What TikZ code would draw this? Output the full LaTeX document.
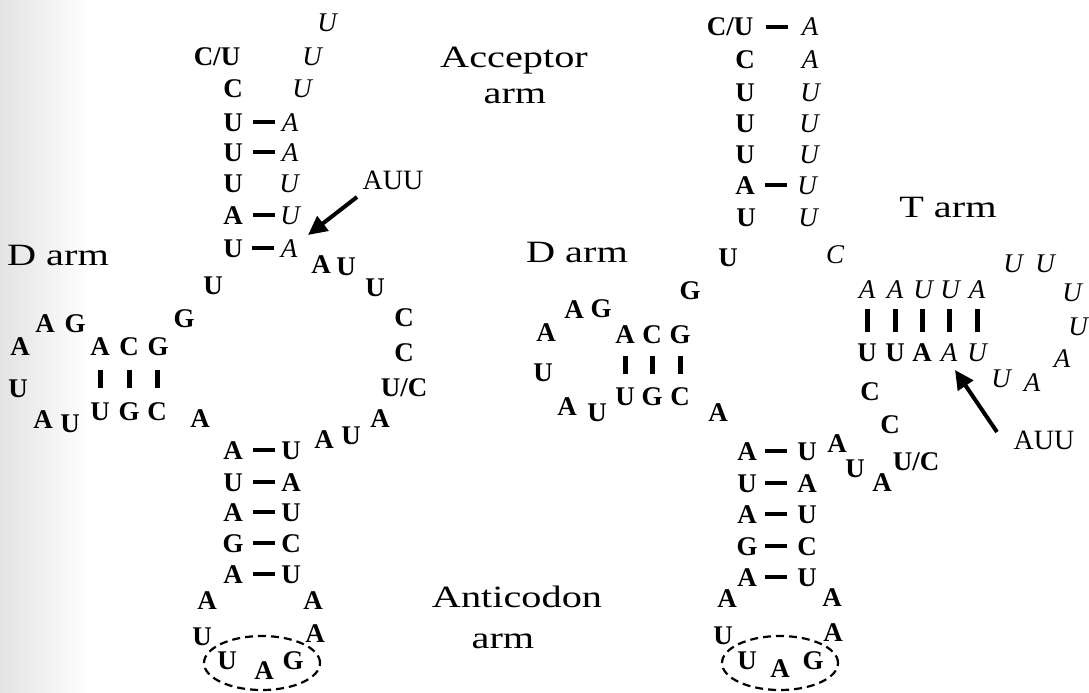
\documentclass[tikz,border=0pt]{standalone}
\usepackage{fontspec}
\usepackage{pdfrender}
\setmainfont{Liberation Serif}
\newfontfamily\seqfont{Liberation Serif}
\newfontfamily\labfont[FakeStretch=1.3]{Liberation Serif}
\usetikzlibrary{shapes.geometric,arrows.meta,calc}
\tikzset{
  letter/.style={inner sep=0pt, outer sep=0pt, anchor=center, text depth=0pt},
  bs/.style={letter, font=\seqfont\bfseries\fontsize{27}{27}\selectfont\pdfrender{TextRenderingMode=FillStroke,LineWidth=1.1pt}, text height=18pt},
  is/.style={letter, font=\seqfont\itshape\fontsize{27}{27}\selectfont\pdfrender{TextRenderingMode=FillStroke,LineWidth=0.6pt}, text height=18pt},
  lab/.style={letter, font=\labfont\fontsize{31}{31}\selectfont\pdfrender{TextRenderingMode=FillStroke,LineWidth=0.5pt}, text height=20.5pt},
  auu/.style={letter, font=\fontsize{28}{28}\selectfont\pdfrender{TextRenderingMode=FillStroke,LineWidth=0.5pt}, text height=18.5pt},
  pairline/.style={line width=3.8pt},
  barline/.style={line width=5pt},
  arr/.style={line width=4pt, -{Triangle[length=19pt,width=18pt]}},
  anti/.style={draw, ellipse, dash pattern=on 8pt off 5pt, line width=2.2pt, minimum width=116pt, minimum height=54pt, inner sep=0pt},
}
\newcommand\pairdash[3][0]{\draw[pairline] ($(#2)!0.5!(#3)+(#1-11,0)$) -- ($(#2)!0.5!(#3)+(#1+11,0)$);}
\newcommand\basebar[3][18]{\draw[barline] ($(#2)!0.5!(#3)+(0,-#1/2)$) -- ($(#2)!0.5!(#3)+(0,#1/2)$);}
\begin{document}
\begin{tikzpicture}[x=1pt,y=-1pt]
\useasboundingbox (0,0) rectangle (1089,693);
\shade[left color=black!11, right color=white] (0,0) rectangle (90,693);
% ================= LEFT =================
% acceptor
\node[is] (La0) at (327,23) {U};
\node[bs] (La1l) at (217,57) {C/U}; \node[is] (La1r) at (312,57) {U};
\node[bs] (La2l) at (233,88) {C};   \node[is] (La2r) at (302,88) {U};
\node[bs] (La3l) at (233,122) {U};  \node[is] (La3r) at (290,122) {A};
\node[bs] (La4l) at (233,152) {U};  \node[is] (La4r) at (290,152) {A};
\node[bs] (La5l) at (233,183) {U};  \node[is] (La5r) at (289,183) {U};
\node[bs] (La6l) at (233,215) {A};  \node[is] (La6r) at (290,215) {U};
\node[bs] (La7l) at (233,248) {U};  \node[is] (La7r) at (289,248) {A};
\pairdash[2]{La3l}{La3r}\pairdash[2]{La4l}{La4r}\pairdash[2]{La6l}{La6r}\pairdash[2]{La7l}{La7r}
% junction and variable loop
\node[bs] (Lc1) at (321,264) {A};
\node[bs] (Lc2) at (346,266) {U};
\node[bs] (Lc3) at (375,287) {U};
\node[bs] (Lc4) at (404,317) {C};
\node[bs] (Lc5) at (404,352) {C};
\node[bs] (Lc6) at (404,387) {U/C};
\node[bs] (Lc7) at (380,418) {A};
\node[bs] (Lc8) at (351,435) {U};
\node[bs] (Lc9) at (324,439) {A};
\node[bs] (Lj1) at (213,285) {U};
\node[bs] (Lj2) at (184,318) {G};
\node[bs] (Lj3) at (200,418) {A};
% D arm
\node[bs] (Ld1) at (20,346) {A};
\node[bs] (Ld2) at (45,323) {A};
\node[bs] (Ld3) at (75,323) {G};
\node[bs] (Ld4) at (100,346) {A};
\node[bs] (Ld5) at (129,346) {C};
\node[bs] (Ld6) at (158,346) {G};
\node[bs] (Ld7) at (100,411) {U};
\node[bs] (Ld8) at (129,411) {G};
\node[bs] (Ld9) at (157,411) {C};
\node[bs] (Ld10) at (18,388) {U};
\node[bs] (Ld11) at (43,419) {A};
\node[bs] (Ld12) at (70,423) {U};
\basebar{Ld4}{Ld7}\basebar{Ld5}{Ld8}\basebar{Ld6}{Ld9}
% anticodon arm
\node[bs] (Ls1l) at (233,450) {A}; \node[bs] (Ls1r) at (291,450) {U};
\node[bs] (Ls2l) at (233,482) {U}; \node[bs] (Ls2r) at (291,482) {A};
\node[bs] (Ls3l) at (233,512) {A}; \node[bs] (Ls3r) at (291,512) {U};
\node[bs] (Ls4l) at (233,543) {G}; \node[bs] (Ls4r) at (291,543) {C};
\node[bs] (Ls5l) at (233,574) {A}; \node[bs] (Ls5r) at (291,574) {U};
\pairdash[2]{Ls1l}{Ls1r}\pairdash[2]{Ls2l}{Ls2r}\pairdash[2]{Ls3l}{Ls3r}\pairdash[2]{Ls4l}{Ls4r}\pairdash[2]{Ls5l}{Ls5r}
\node[bs] (Lx1) at (207,600) {A};
\node[bs] (Lx2) at (313,600) {A};
\node[bs] (Lx3) at (202,636) {U};
\node[bs] (Lx4) at (315,633) {A};
\node[bs] (Lac1) at (227,660) {U};
\node[bs] (Lac2) at (264,670) {A};
\node[bs] (Lac3) at (293,660) {G};
\node[anti] (Lell) at (262,663) {};
% labels
\node[lab] (LDarm) at (58,255) {D arm};
\node[auu] (Lauu) at (393,180) {AUU};
\coordinate (LarT) at (357,197);
\coordinate (LarH) at (308,235);
\draw[arr] (LarT) -- (LarH);
\node[lab] (Acc1) at (514,57) {Acceptor};
\node[lab] (Acc2) at (515,93) {arm};
\node[lab] (Ant1) at (517,597) {Anticodon};
\node[lab] (Ant2) at (503,638) {arm};
% ================= RIGHT =================
\node[bs] (Ra1l) at (730,27) {C/U};  \node[is] (Ra1r) at (810,27) {A};
\node[bs] (Ra2l) at (745,60) {C};    \node[is] (Ra2r) at (810,60) {A};
\node[bs] (Ra3l) at (745,92) {U};    \node[is] (Ra3r) at (810,92) {U};
\node[bs] (Ra4l) at (745,123) {U};   \node[is] (Ra4r) at (809,123) {U};
\node[bs] (Ra5l) at (745,154) {U};   \node[is] (Ra5r) at (809,154) {U};
\node[bs] (Ra6l) at (745,185) {A};   \node[is] (Ra6r) at (807,185) {U};
\node[bs] (Ra7l) at (746,217) {U};   \node[is] (Ra7r) at (808,217) {U};
\pairdash[7]{Ra1l}{Ra1r}\pairdash[0]{Ra6l}{Ra6r}
\node[bs] (Rj1) at (728,257) {U};
\node[bs] (Rj2) at (690,290) {G};
\node[is] (Rc0) at (835,254) {C};
% T arm
\node[is] (Rt1) at (867,289) {A};
\node[is] (Rt2) at (895,289) {A};
\node[is] (Rt3) at (923,289) {U};
\node[is] (Rt4) at (950,289) {U};
\node[is] (Rt5) at (977,289) {A};
\node[bs] (Rb1) at (867,352) {U};
\node[bs] (Rb2) at (895,352) {U};
\node[bs] (Rb3) at (922,352) {A};
\node[is] (Rb4) at (949,352) {A};
\node[is] (Rb5) at (977,352) {U};
\basebar[23]{Rt1}{Rb1}\basebar[23]{Rt2}{Rb2}\basebar[23]{Rt3}{Rb3}\basebar[23]{Rt4}{Rb4}\basebar[23]{Rt5}{Rb5}
\node[is] (Rl1) at (1013,263) {U};
\node[is] (Rl2) at (1045,263) {U};
\node[is] (Rl3) at (1072,292) {U};
\node[is] (Rl4) at (1078,326) {U};
\node[is] (Rl5) at (1062,358) {A};
\node[is] (Rl6) at (1032,382) {A};
\node[is] (Rl7) at (1001,378) {U};
\node[lab] (RTarm) at (948,207) {T arm};
\node[auu] (Rauu) at (1044,440) {AUU};
\coordinate (RarT) at (997,432);
\coordinate (RarH) at (955,370);
\draw[arr] (RarT) -- (RarH);
% variable loop
\node[bs] (Rc1) at (870,391) {C};
\node[bs] (Rc2) at (890,424) {C};
\node[bs] (Rc3) at (916,461) {U/C};
\node[bs] (Rc4) at (882,482) {A};
\node[bs] (Rc5) at (855,468) {U};
\node[bs] (Rc6) at (837,443) {A};
% D arm
\node[lab] (RDarm) at (577,252) {D arm};
\node[bs] (Rd1) at (546,332) {A};
\node[bs] (Rd2) at (574,309) {A};
\node[bs] (Rd3) at (601,308) {G};
\node[bs] (Rd4) at (625,334) {A};
\node[bs] (Rd5) at (652,334) {C};
\node[bs] (Rd6) at (680,334) {G};
\node[bs] (Rd7) at (625,396) {U};
\node[bs] (Rd8) at (652,396) {G};
\node[bs] (Rd9) at (680,396) {C};
\node[bs] (Rd10) at (543,372) {U};
\node[bs] (Rd11) at (567,406) {A};
\node[bs] (Rd12) at (597,412) {U};
\basebar{Rd4}{Rd7}\basebar{Rd5}{Rd8}\basebar{Rd6}{Rd9}
\node[bs] (Rj3) at (718,412) {A};
% anticodon arm
\node[bs] (Rs1l) at (747,451) {A}; \node[bs] (Rs1r) at (807,451) {U};
\node[bs] (Rs2l) at (747,483) {U}; \node[bs] (Rs2r) at (807,483) {A};
\node[bs] (Rs3l) at (747,514) {A}; \node[bs] (Rs3r) at (807,514) {U};
\node[bs] (Rs4l) at (747,546) {G}; \node[bs] (Rs4r) at (807,546) {C};
\node[bs] (Rs5l) at (747,577) {A}; \node[bs] (Rs5r) at (807,577) {U};
\pairdash[-1]{Rs1l}{Rs1r}\pairdash[-1]{Rs2l}{Rs2r}\pairdash[-1]{Rs3l}{Rs3r}\pairdash[-1]{Rs4l}{Rs4r}\pairdash[-1]{Rs5l}{Rs5r}
\node[bs] (Rx1) at (727,598) {A};
\node[bs] (Rx2) at (832,597) {A};
\node[bs] (Rx3) at (723,635) {U};
\node[bs] (Rx4) at (833,632) {A};
\node[bs] (Rac1) at (747,660) {U};
\node[bs] (Rac2) at (780,668) {A};
\node[bs] (Rac3) at (813,660) {G};
\node[anti] (Rell) at (780,663) {};
\end{tikzpicture}
\end{document}
